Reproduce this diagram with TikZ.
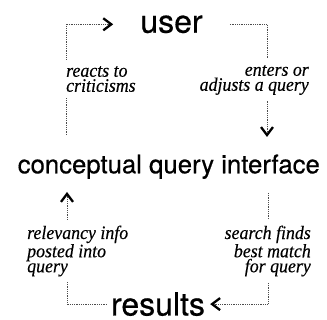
\documentclass[tikz,border=0pt]{standalone}
\usepackage{fontspec}
\newfontfamily\termfont{TeX Gyre Heros}[FakeBold=0.5]
\newfontfamily\notefont{Liberation Serif}[FakeStretch=0.94,FakeBold=0.3]
\usetikzlibrary{arrows.meta}
\begin{document}
\begin{tikzpicture}[x=1pt,y=-1pt,
  term/.style={inner sep=0pt, font=\termfont\fontsize{32}{32}\selectfont},
  flow/.style={draw=black!70, line width=0.7pt, dash pattern=on 0.7pt off 1.1pt,
    -{Straight Barb[length=8pt,width=12pt,line width=2.3pt,color=black]}},
  note/.style={fill=white, inner xsep=0pt, inner ysep=6pt,
    font=\notefont\itshape\fontsize{19}{15}\selectfont}
]
\useasboundingbox (0,0) rectangle (327,320);

% the three stages of the loop
\node[term, anchor=base] (user) at (171.5,32.7) {user};
\node[term, anchor=base, font=\termfont\fontsize{25.7}{26}\selectfont] (cq) at (168.8,173.3) {conceptual query interface};
\node[term, anchor=base] (res) at (158,315.5) {results};

% endpoints of the connectors next to the interface line
\coordinate (lt) at (66,135);
\coordinate (rt) at (267,137);
\coordinate (lb) at (67,192);
\coordinate (rb) at (268,193);

% connectors
\draw[flow] (lt) |- ([xshift=-27pt]user.west);
\draw[flow] ([xshift=27pt]user.east) -| (rt);
\draw[flow] (rb) |- ([xshift=5pt]res.east);
\draw[flow] ([xshift=-4pt]res.west) -| (lb);

% labels sitting on the connectors
\node[note, anchor=west, align=left] (l1) at (66,79) {reacts to\\criticisms};
\node[note, anchor=east, align=right] (l2) at (309,80) {enters or\\adjusts a query};
\node[note, anchor=west, align=left] (l3) at (27,251) {relevancy info\\posted into\\query};
\node[note, anchor=east, align=right] (l4) at (311,251) {search finds\\best match\\for query};
\end{tikzpicture}
\end{document}
